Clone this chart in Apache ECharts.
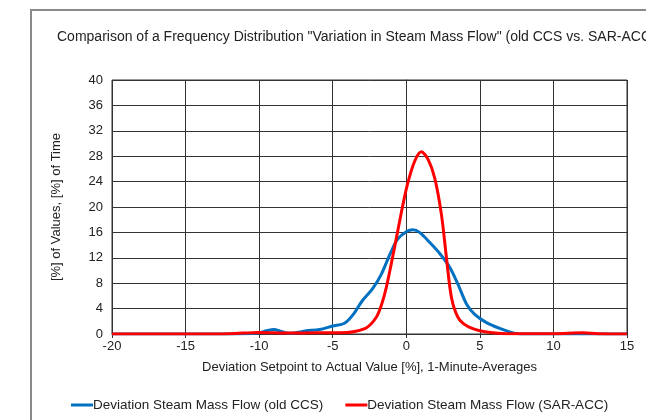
<!DOCTYPE html>
<html>
<head>
<meta charset="utf-8">
<script src="https://cdn.jsdelivr.net/npm/echarts@6/dist/echarts.min.js"></script>
<style>html,body{margin:0;padding:0;background:#fff;}#c{width:646px;height:420px;}</style>
</head>
<body>
<div id="c"></div>
<script>
var titleText = 'Comparison of a Frequency Distribution "Variation in Steam Mass Flow" (old CCS vs. SAR-ACC)';
var xAxisName = 'Deviation Setpoint to Actual Value [%], 1-Minute-Averages';
var yAxisName = '[%] of Values, [%] of Time';
var seriesNames = ['Deviation Steam Mass Flow (old CCS)', 'Deviation Steam Mass Flow (SAR-ACC)'];

var oldX = [-20, -15, -11, -10, -9.5, -9, -8.5, -7.9, -6.8, -5.9, -5, -4.2, -3.6, -3.0, -2.3, -1.7, -1.1, -0.6, 0, 0.45, 0.9, 1.6, 2.3, 2.95, 3.5, 4.1, 4.65, 5.45, 6.35, 7.4, 8, 10, 15];
var oldY = [0, 0, 0.05, 0.2, 0.5, 0.7, 0.4, 0.1, 0.5, 0.7, 1.25, 1.7, 3.1, 5.2, 7.1, 9.4, 12.6, 14.9, 16.1, 16.4, 16.0, 14.4, 12.6, 10.5, 7.9, 4.7, 3.1, 1.8, 0.9, 0.1, 0, 0, 0];

var sarX = [-20, -15, -12, -10, -8, -6, -5, -4, -3.6, -2.7, -2.05, -1.7, -1.36, -0.8, -0.34, 0.07, 0.57, 1.02, 1.48, 1.93, 2.39, 2.73, 3.07, 3.52, 4.1, 5, 5.9, 7, 10, 12, 13, 15];
var sarY = [0, 0, 0.05, 0.25, 0.15, 0.2, 0.2, 0.25, 0.35, 1.0, 2.6, 4.5, 7.3, 13.6, 19.1, 23.5, 27.2, 28.7, 27.5, 24.6, 18.8, 12.0, 5.75, 2.6, 1.3, 0.5, 0.2, 0.05, 0.05, 0.2, 0.05, 0];

function pairs(xs, ys){ return xs.map(function(x,i){ return [x, ys[i]]; }); }

var chart = echarts.init(document.getElementById('c'), null, {renderer:'canvas'});
var font = 'Liberation Sans, Arial, sans-serif';
chart.setOption({
  animation: false,
  backgroundColor: '#fff',
  graphic: [{
    type: 'rect', shape: {x: 31, y: 10, width: 800, height: 600},
    style: {fill: 'none', stroke: '#8a8a8a', lineWidth: 2}, z: -1
  }],
  title: {
    text: titleText, left: 52, top: 25,
    textStyle: {fontFamily: font, fontSize: 14, fontWeight: 'normal', color: '#222'}
  },
  legend: {
    bottom: 3, left: 66, itemWidth: 22, itemHeight: 3, itemGap: 22,
    icon: 'rect',
    textStyle: {fontFamily: font, fontSize: 13.5, color: '#222', padding: [0,0,0,-5]},
    data: seriesNames
  },
  grid: {left: 112, right: 19, top: 80, bottom: 86, show: true, borderColor: '#333', borderWidth: 1},
  xAxis: {
    type: 'value', min: -20, max: 15, interval: 5,
    name: xAxisName, nameLocation: 'middle', nameGap: 27,
    nameTextStyle: {fontFamily: font, fontSize: 13, color: '#222'},
    axisLine: {onZero: false, lineStyle: {color: '#333'}},
    axisTick: {show: true, length: 4, lineStyle: {color: '#333'}},
    axisLabel: {fontFamily: font, fontSize: 13, color: '#222', margin: 6},
    splitLine: {show: true, lineStyle: {color: '#333', width: 1}}
  },
  yAxis: {
    type: 'value', min: 0, max: 40, interval: 4,
    name: yAxisName, nameLocation: 'middle', nameGap: 49,
    nameTextStyle: {fontFamily: font, fontSize: 13, color: '#222'},
    axisLine: {show: true, lineStyle: {color: '#333'}},
    axisTick: {show: true, length: 4, lineStyle: {color: '#333'}},
    axisLabel: {fontFamily: font, fontSize: 13, color: '#222', margin: 9},
    splitLine: {show: true, lineStyle: {color: '#333', width: 1}}
  },
  series: [
    {name: seriesNames[0], type: 'line', data: pairs(oldX, oldY), smooth: 0.3, showSymbol: false,
     lineStyle: {color: '#0070c0', width: 3}, itemStyle: {color: '#0070c0'}, z: 2},
    {name: seriesNames[1], type: 'line', data: pairs(sarX, sarY), smooth: 0.3, showSymbol: false,
     lineStyle: {color: '#ff0000', width: 3}, itemStyle: {color: '#ff0000'}, z: 3}
  ]
});
</script>
</body>
</html>
